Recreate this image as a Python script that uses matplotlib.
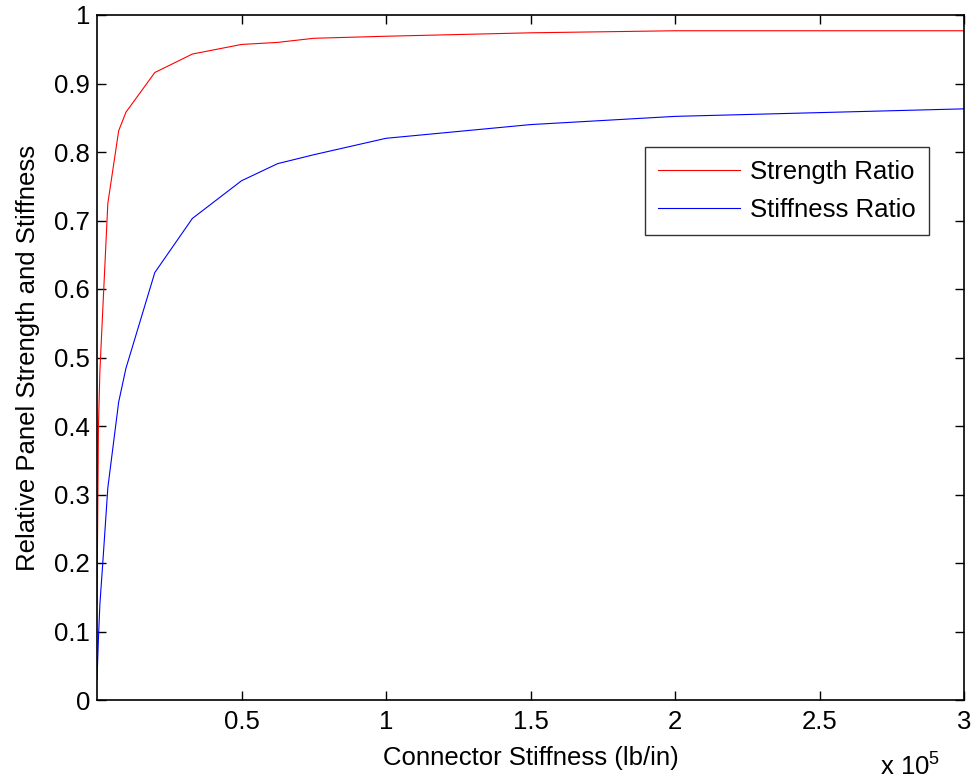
import matplotlib
matplotlib.use("Agg")
import matplotlib.pyplot as plt

plt.rcParams['font.family'] = ['Liberation Sans', 'DejaVu Sans']
plt.rcParams['mathtext.fontset'] = 'custom'
plt.rcParams['mathtext.rm'] = 'Liberation Sans'

# Connector stiffness (lb/in)
stiffness = [0, 500, 1000, 2000, 3750, 7500, 10000, 20000, 33000, 50000,
             62500, 75000, 100000, 150000, 200000, 300000]
strength_ratio = [0.14, 0.40, 0.48, 0.57, 0.725, 0.831, 0.858, 0.916, 0.943,
                  0.957, 0.960, 0.966, 0.969, 0.974, 0.977, 0.977]
stiffness_ratio = [0.03, 0.09, 0.14, 0.20, 0.31, 0.435, 0.484, 0.624, 0.703,
                   0.758, 0.783, 0.796, 0.820, 0.840, 0.852, 0.863]

xticks = [50000, 100000, 150000, 200000, 250000, 300000]
xtick_labels = ["0.5", "1", "1.5", "2", "2.5", "3"]
yticks = [0, 0.1, 0.2, 0.3, 0.4, 0.5, 0.6, 0.7, 0.8, 0.9, 1.0]
ytick_labels = ["0", "0.1", "0.2", "0.3", "0.4", "0.5", "0.6", "0.7", "0.8", "0.9", "1"]

FS = 18.5

fig = plt.figure(figsize=(9.74, 7.82), dpi=100)
ax = fig.add_axes([97/974, 1-700/782, (964-97)/974, (700-15)/782])

ax.plot(stiffness, strength_ratio, color='red', lw=0.8, label='Strength Ratio')
ax.plot(stiffness, stiffness_ratio, color='blue', lw=0.8, label='Stiffness Ratio')

ax.set_xlim(0, 300000)
ax.set_ylim(0, 1)
ax.set_xticks(xticks)
ax.set_xticklabels(xtick_labels)
ax.set_yticks(yticks)
ax.set_yticklabels(ytick_labels)
ax.tick_params(direction='in', length=6.5, width=1, top=True, right=True,
               labelsize=FS)
ax.tick_params(axis='x', pad=7)
ax.tick_params(axis='y', pad=5)
for s in ax.spines.values():
    s.set_linewidth(1.2)

ax.set_xlabel('Connector Stiffness (lb/in)', fontsize=FS, labelpad=9)
ax.set_ylabel('Relative Panel Strength and Stiffness', fontsize=FS, labelpad=10)

fig.text(910/974, 1-766/782, r'x 10$^5$', fontsize=FS, ha='center', va='center')

leg = ax.legend(loc='upper right', bbox_to_anchor=((929-97)/867, (700-147)/685),
                fontsize=FS, frameon=True, fancybox=False, edgecolor='black',
                handlelength=3.2, handletextpad=0.4, borderpad=0.5,
                labelspacing=0.55, borderaxespad=0)
leg.get_frame().set_linewidth(1.0)

fig.savefig('out.png', dpi=100, facecolor='white')
